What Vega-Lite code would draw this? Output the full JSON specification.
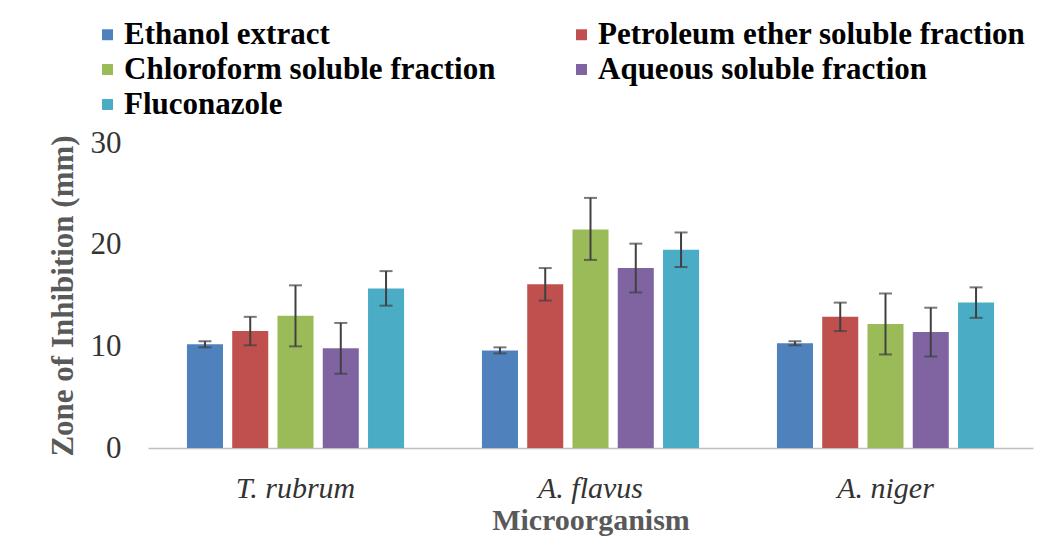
{
  "$schema": "https://vega.github.io/schema/vega-lite/v6.json",
  "width": 885,
  "height": 305,
  "autosize": "none",
  "padding": {"left": 148, "top": 143, "right": 13, "bottom": 88},
  "background": "white",
  "data": {
    "values": [
      {"org": "T. rubrum", "sample": "Ethanol extract", "value": 10.2, "lo": 9.9, "hi": 10.5},
      {"org": "T. rubrum", "sample": "Petroleum ether soluble fraction", "value": 11.5, "lo": 10.1, "hi": 12.9},
      {"org": "T. rubrum", "sample": "Chloroform soluble fraction", "value": 13.0, "lo": 10.0, "hi": 16.0},
      {"org": "T. rubrum", "sample": "Aqueous soluble fraction", "value": 9.8, "lo": 7.3, "hi": 12.3},
      {"org": "T. rubrum", "sample": "Fluconazole", "value": 15.7, "lo": 14.0, "hi": 17.4},
      {"org": "A. flavus", "sample": "Ethanol extract", "value": 9.6, "lo": 9.3, "hi": 9.9},
      {"org": "A. flavus", "sample": "Petroleum ether soluble fraction", "value": 16.1, "lo": 14.5, "hi": 17.7},
      {"org": "A. flavus", "sample": "Chloroform soluble fraction", "value": 21.5, "lo": 18.5, "hi": 24.6},
      {"org": "A. flavus", "sample": "Aqueous soluble fraction", "value": 17.7, "lo": 15.3, "hi": 20.1},
      {"org": "A. flavus", "sample": "Fluconazole", "value": 19.5, "lo": 17.8, "hi": 21.2},
      {"org": "A. niger", "sample": "Ethanol extract", "value": 10.3, "lo": 10.1, "hi": 10.5},
      {"org": "A. niger", "sample": "Petroleum ether soluble fraction", "value": 12.9, "lo": 11.5, "hi": 14.3},
      {"org": "A. niger", "sample": "Chloroform soluble fraction", "value": 12.2, "lo": 9.2, "hi": 15.2},
      {"org": "A. niger", "sample": "Aqueous soluble fraction", "value": 11.4, "lo": 9.0, "hi": 13.8},
      {"org": "A. niger", "sample": "Fluconazole", "value": 14.3, "lo": 12.8, "hi": 15.8}
    ]
  },
  "encoding": {
    "x": {
      "field": "org",
      "type": "nominal",
      "sort": ["T. rubrum", "A. flavus", "A. niger"],
      "scale": {"paddingInner": 0.264, "paddingOuter": 0.132},
      "axis": {
        "title": "Microorganism",
        "labelAngle": 0,
        "labelFont": "Liberation Serif",
        "labelFontStyle": "italic",
        "labelFontSize": 30,
        "labelColor": "#333333",
        "labelPadding": 25,
        "ticks": false,
        "domainColor": "#bfbfbf",
        "domainWidth": 1.5,
        "titleFont": "Liberation Serif",
        "titleFontSize": 30,
        "titleFontWeight": "bold",
        "titleColor": "#595959",
        "titlePadding": 2
      }
    },
    "xOffset": {
      "field": "sample",
      "type": "nominal",
      "sort": ["Ethanol extract", "Petroleum ether soluble fraction", "Chloroform soluble fraction", "Aqueous soluble fraction", "Fluconazole"],
      "scale": {"paddingInner": 0.204, "paddingOuter": 0}
    }
  },
  "layer": [
    {
      "mark": {"type": "bar"},
      "encoding": {
        "y": {
          "field": "value",
          "type": "quantitative",
          "scale": {"domain": [0, 30], "nice": false},
          "axis": {
            "title": "Zone of Inhibition (mm)",
            "values": [0, 10, 20, 30],
            "grid": false,
            "domain": false,
            "ticks": false,
            "labelFont": "Liberation Serif",
            "labelFontSize": 31,
            "labelColor": "#333333",
            "labelPadding": 27,
            "titleFont": "Liberation Serif",
            "titleFontSize": 31,
            "titleFontWeight": "bold",
            "titleColor": "#595959",
            "titlePadding": 11
          }
        },
        "color": {
          "field": "sample",
          "type": "nominal",
          "sort": ["Ethanol extract", "Chloroform soluble fraction", "Fluconazole", "Petroleum ether soluble fraction", "Aqueous soluble fraction"],
          "scale": {"range": ["#4F81BD", "#9BBB59", "#4BACC6", "#C0504D", "#8064A2"]},
          "legend": {
            "title": null,
            "orient": "none",
            "legendX": -56,
            "legendY": -124,
            "columns": 2,
            "columnPadding": 70,
            "rowPadding": 3,
            "padding": 0,
            "symbolType": "square",
            "symbolSize": 120,
            "symbolStrokeWidth": 0,
            "labelFont": "Liberation Serif",
            "labelFontSize": 31,
            "labelFontWeight": "bold",
            "labelColor": "#000000",
            "labelOffset": 1,
            "labelLimit": 600
          }
        }
      }
    },
    {
      "mark": {"type": "rule", "color": "#404040", "strokeWidth": 2},
      "encoding": {
        "y": {"field": "lo", "type": "quantitative"},
        "y2": {"field": "hi"}
      }
    },
    {
      "mark": {"type": "tick", "color": "#404040", "thickness": 2, "size": 13},
      "encoding": {
        "y": {"field": "lo", "type": "quantitative"}
      }
    },
    {
      "mark": {"type": "tick", "color": "#404040", "thickness": 2, "size": 13},
      "encoding": {
        "y": {"field": "hi", "type": "quantitative"}
      }
    }
  ],
  "config": {
    "view": {"stroke": null},
    "font": "Liberation Serif"
  }
}
